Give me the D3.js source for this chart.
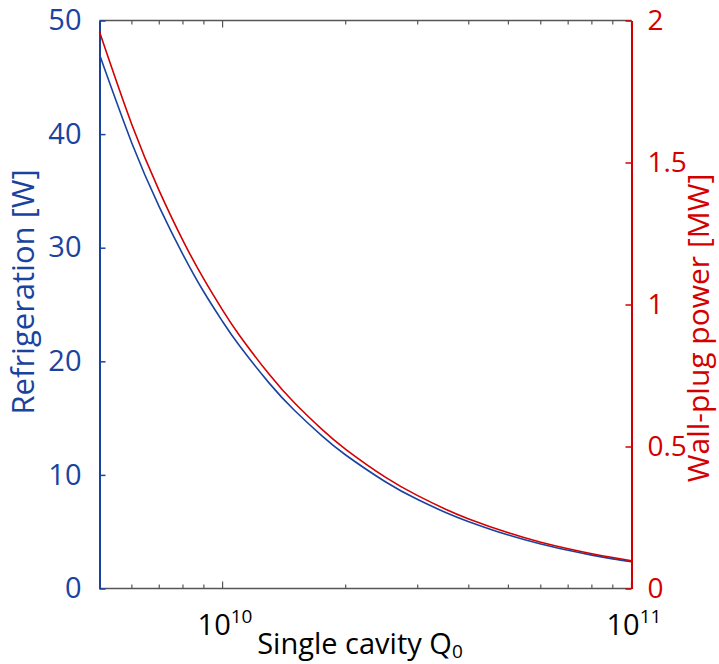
<!DOCTYPE html>
<html>
<head>
<meta charset="utf-8">
<script src="https://cdn.jsdelivr.net/npm/d3@7"></script>
<style>
  body { margin: 0; background: #fff; }
  text { font-family: "Open Sans", "DejaVu Sans", sans-serif; }
</style>
</head>
<body>
<svg id="chart" width="719" height="664"></svg>
<script>
// values
var q0 = [5e9, 6e9, 7e9, 8e9, 9e9, 1e10, 1.1e10, 1.3e10, 1.5e10, 1.75e10, 2e10, 2.5e10, 3e10, 3.5e10, 4e10, 5e10, 6e10, 7e10, 8e10, 9e10, 1e11];
var refrigeration = [47.0, 39.2, 33.6, 29.4, 26.1, 23.5, 21.36, 18.08, 15.67, 13.43, 11.75, 9.4, 7.83, 6.71, 5.88, 4.7, 3.92, 3.36, 2.94, 2.61, 2.35];
var wallPlug = [1.96, 1.633, 1.40, 1.225, 1.089, 0.98, 0.891, 0.754, 0.653, 0.56, 0.49, 0.392, 0.327, 0.28, 0.245, 0.196, 0.163, 0.14, 0.1225, 0.109, 0.098];
var leftTicks = [0, 10, 20, 30, 40, 50];
var rightTicks = [0, 0.5, 1, 1.5, 2];
var rightTickLabels = ['0', '0.5', '1', '1.5', '2'];
var minorTicks = [6e9, 7e9, 8e9, 9e9, 2e10, 3e10, 4e10, 5e10, 6e10, 7e10, 8e10, 9e10];
var majorTicks = [1e10, 1e11];

var blue = '#1a43a0', red = '#d40000', gray = '#555';
var plotL = 99.5, plotR = 631.5, plotT = 20.5, plotB = 588.5;
var fontStack = '"Open Sans", "DejaVu Sans", sans-serif';

var svg = d3.select('#chart');

var x = d3.scaleLog().domain([5e9, 1e11]).range([plotL, plotR]);
var yL = d3.scaleLinear().domain([0, 50]).range([plotB, plotT]);
var yR = d3.scaleLinear().domain([0, 2]).range([plotB, plotT]);

// top and bottom frame with inward ticks
svg.append('line').attr('x1', plotL).attr('x2', plotR).attr('y1', plotB).attr('y2', plotB)
  .attr('stroke', gray).attr('stroke-width', 1.3);
svg.append('line').attr('x1', plotL).attr('x2', plotR).attr('y1', plotT).attr('y2', plotT)
  .attr('stroke', gray).attr('stroke-width', 1.3);

var xt = svg.append('g').attr('class', 'xticks');
[plotB, plotT].forEach(function(yy) {
  var dir = yy === plotB ? -1 : 1;
  xt.selectAll(null).data(minorTicks).enter().append('line')
    .attr('x1', function(d) { return x(d); }).attr('x2', function(d) { return x(d); })
    .attr('y1', yy).attr('y2', yy + dir * 4)
    .attr('stroke', gray).attr('stroke-width', 1.2);
  xt.selectAll(null).data(majorTicks).enter().append('line')
    .attr('x1', function(d) { return x(d); }).attr('x2', function(d) { return x(d); })
    .attr('y1', yy).attr('y2', yy + dir * 7)
    .attr('stroke', gray).attr('stroke-width', 1.2);
});

// x tick labels 10^n
var xl = svg.append('g');
majorTicks.forEach(function(d) {
  var t = xl.append('text').attr('x', x(d) - 25).attr('y', 635)
    .attr('text-anchor', 'start').attr('font-size', 29).attr('fill', '#000');
  t.append('tspan').text('10');
  t.append('tspan').attr('font-size', 19).attr('dy', -12).text(Math.round(Math.log10(d)));
});

svg.append('text').attr('x', 360).attr('y', 654).attr('text-anchor', 'middle')
  .attr('font-size', 29).attr('fill', '#000')
  .call(function(t) {
    t.append('tspan').text('Single cavity Q');
    t.append('tspan').attr('font-size', 19).attr('dy', 4).text('0');
  });

// left axis
var gl = svg.append('g').attr('transform', 'translate(' + plotL + ',0)')
  .call(d3.axisLeft(yL).tickValues(leftTicks).tickSizeInner(-6).tickSizeOuter(0).tickPadding(18));
gl.select('.domain').attr('stroke', blue).attr('stroke-width', 2);
gl.selectAll('.tick line').attr('stroke', blue).attr('stroke-width', 1.5);
gl.selectAll('.tick text').attr('fill', blue).attr('font-size', 29).attr('font-family', fontStack);

// right axis
var gr = svg.append('g').attr('transform', 'translate(' + plotR + ',0)')
  .call(d3.axisRight(yR).tickValues(rightTicks).tickFormat(function(d, i) { return rightTickLabels[i]; })
    .tickSizeInner(-6).tickSizeOuter(0).tickPadding(16));
gr.select('.domain').attr('stroke', red).attr('stroke-width', 2);
gr.selectAll('.tick line').attr('stroke', red).attr('stroke-width', 1.5);
gr.selectAll('.tick text').attr('fill', red).attr('font-size', 28).attr('font-family', fontStack);

// axis titles
svg.append('text').attr('transform', 'translate(34,292) rotate(-90)')
  .attr('text-anchor', 'middle').attr('font-size', 31).attr('fill', blue)
  .text('Refrigeration [W]');
svg.append('text').attr('transform', 'translate(709,328) rotate(-90)')
  .attr('text-anchor', 'middle').attr('font-size', 30).attr('fill', red)
  .text('Wall-plug power [MW]');

// curves
var lineL = d3.line().curve(d3.curveNatural)
  .x(function(d, i) { return x(q0[i]); })
  .y(function(d) { return yL(d); });
var lineR = d3.line().curve(d3.curveNatural)
  .x(function(d, i) { return x(q0[i]); })
  .y(function(d) { return yR(d); });

svg.append('path').datum(refrigeration).attr('d', lineL)
  .attr('fill', 'none').attr('stroke', blue).attr('stroke-width', 1.6);
svg.append('path').datum(wallPlug).attr('d', lineR)
  .attr('fill', 'none').attr('stroke', red).attr('stroke-width', 1.6);
</script>
</body>
</html>
